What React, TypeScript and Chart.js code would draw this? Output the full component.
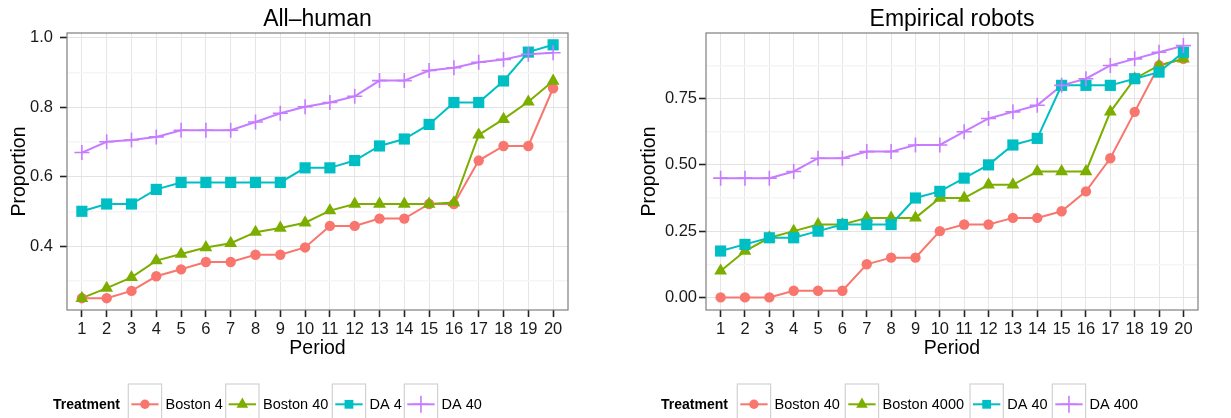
import React, { useEffect, useRef } from "react";
import { Chart, registerables } from "chart.js";

Chart.register(...registerables);

// ---------- data ----------
const periods = [1, 2, 3, 4, 5, 6, 7, 8, 9, 10, 11, 12, 13, 14, 15, 16, 17, 18, 19, 20];
const periodTickLabels = ["1", "2", "3", "4", "5", "6", "7", "8", "9", "10", "11", "12", "13", "14", "15", "16", "17", "18", "19", "20"];

const humanTitle = "All\u2013human";
const humanTreatments = ["Boston 4", "Boston 40", "DA 4", "DA 40"];
const humanBoston4 = [0.25, 0.25, 0.271, 0.313, 0.333, 0.354, 0.354, 0.375, 0.375, 0.396, 0.458, 0.458, 0.479, 0.479, 0.521, 0.521, 0.646, 0.688, 0.688, 0.854];
const humanBoston40 = [0.25, 0.279, 0.31, 0.358, 0.377, 0.396, 0.408, 0.44, 0.452, 0.467, 0.502, 0.521, 0.521, 0.521, 0.521, 0.525, 0.72, 0.765, 0.815, 0.875];
const humanDA4 = [0.5, 0.521, 0.521, 0.563, 0.583, 0.583, 0.583, 0.583, 0.583, 0.625, 0.625, 0.646, 0.688, 0.708, 0.75, 0.813, 0.813, 0.875, 0.958, 0.979];
const humanDA40 = [0.669, 0.7, 0.705, 0.714, 0.733, 0.733, 0.733, 0.757, 0.782, 0.801, 0.813, 0.831, 0.876, 0.876, 0.905, 0.913, 0.929, 0.937, 0.952, 0.956];
const humanMajorTicks = [0.4, 0.6, 0.8, 1.0];
const humanMajorLabels = ["0.4", "0.6", "0.8", "1.0"];
const humanMinorTicks = [0.3, 0.5, 0.7, 0.9];

const robotTitle = "Empirical robots";
const robotTreatments = ["Boston 40", "Boston 4000", "DA 40", "DA 400"];
const robotBoston40 = [0, 0, 0, 0.025, 0.025, 0.025, 0.125, 0.15, 0.15, 0.25, 0.275, 0.275, 0.3, 0.3, 0.325, 0.4, 0.525, 0.7, 0.875, 0.9];
const robotBoston4000 = [0.1, 0.175, 0.225, 0.25, 0.275, 0.275, 0.3, 0.3, 0.3, 0.375, 0.375, 0.425, 0.425, 0.475, 0.475, 0.475, 0.7, 0.825, 0.875, 0.9];
const robotDA40 = [0.175, 0.2, 0.225, 0.225, 0.25, 0.275, 0.275, 0.275, 0.375, 0.4, 0.45, 0.5, 0.575, 0.6, 0.8, 0.8, 0.8, 0.825, 0.85, 0.925];
const robotDA400 = [0.45, 0.45, 0.45, 0.475, 0.525, 0.525, 0.55, 0.55, 0.575, 0.575, 0.625, 0.675, 0.7, 0.725, 0.8, 0.825, 0.875, 0.9, 0.925, 0.95];
const robotMajorTicks = [0, 0.25, 0.5, 0.75];
const robotMajorLabels = ["0.00", "0.25", "0.50", "0.75"];
const robotMinorTicks = [0.125, 0.375, 0.625, 0.875];

const legendTitle = "Treatment";
const xAxisTitle = "Period";
const yAxisTitle = "Proportion";

// ---------- styles ----------
const seriesColors = ["#F8766D", "#7CAE00", "#00BFC4", "#C77CFF"];
const seriesShapes = ["circle", "triangle", "rect", "cross"];
const seriesRadius = [5.2, 7.4, 7.9, 7.5];
const FONT = "'Liberation Sans', Arial, Helvetica, sans-serif";

type PanelCfg = {
  title: string;
  names: string[];
  series: number[][];
  yMin: number;
  yMax: number;
  major: number[];
  majorLabels: string[];
  minor: number[];
  yWidth: number;
  tickPad: number;
  titlePad: number;
  rightPad: number;
  legendTitleX: number;
  legendKeyX: number[];
};

const humanPanel: PanelCfg = {
  title: humanTitle,
  names: humanTreatments,
  series: [humanBoston4, humanBoston40, humanDA4, humanDA40],
  yMin: 0.216,
  yMax: 1.013,
  major: humanMajorTicks,
  majorLabels: humanMajorLabels,
  minor: humanMinorTicks,
  yWidth: 67,
  tickPad: 7,
  titlePad: 8,
  rightPad: 47,
  legendTitleX: 53,
  legendKeyX: [128.3, 225.7, 332.3, 404.3],
};

const robotPanel: PanelCfg = {
  title: robotTitle,
  names: robotTreatments,
  series: [robotBoston40, robotBoston4000, robotDA40, robotDA400],
  yMin: -0.0475,
  yMax: 0.9975,
  major: robotMajorTicks,
  majorLabels: robotMajorLabels,
  minor: robotMinorTicks,
  yWidth: 91,
  tickPad: 2,
  titlePad: 23,
  rightPad: 33,
  legendTitleX: 46,
  legendKeyX: [122.3, 230.3, 355, 437.3],
};

function drawMarker(ctx: CanvasRenderingContext2D, shape: string, x: number, y: number, color: string) {
  ctx.save();
  ctx.fillStyle = color;
  ctx.strokeStyle = color;
  ctx.beginPath();
  if (shape === "circle") {
    ctx.arc(x, y, 4.7, 0, Math.PI * 2);
    ctx.fill();
  } else if (shape === "triangle") {
    const r = 6.7;
    for (let k = 0; k < 3; k++) {
      const a = (k * 2 * Math.PI) / 3;
      const px = x + Math.sin(a) * r;
      const py = y - Math.cos(a) * r;
      if (k === 0) ctx.moveTo(px, py);
      else ctx.lineTo(px, py);
    }
    ctx.closePath();
    ctx.fill();
  } else if (shape === "rect") {
    const s = 8.8;
    ctx.rect(x - s / 2, y - s / 2, s, s);
    ctx.fill();
  } else {
    const r = 8.5;
    ctx.lineWidth = 1.6;
    ctx.moveTo(x - r, y);
    ctx.lineTo(x + r, y);
    ctx.moveTo(x, y - r);
    ctx.lineTo(x, y + r);
    ctx.stroke();
  }
  ctx.restore();
}

function makeExtras(cfg: PanelCfg) {
  return {
    id: "ggExtras",
    afterDraw(chart: any) {
      const ctx: CanvasRenderingContext2D = chart.ctx;
      const a = chart.chartArea;
      ctx.save();
      // panel border
      ctx.strokeStyle = "#7F7F7F";
      ctx.lineWidth = 1.2;
      ctx.strokeRect(a.left, a.top, a.right - a.left, a.bottom - a.top);
      // title
      ctx.fillStyle = "#000";
      ctx.font = `23px ${FONT}`;
      ctx.textAlign = "center";
      ctx.textBaseline = "alphabetic";
      ctx.fillText(cfg.title, (a.left + a.right) / 2, 26);
      // legend
      const baseY = 409.3;
      const keyTop = 384;
      const keyW = 33.3;
      const keyH = 41;
      const keyMid = 404.3;
      ctx.textAlign = "left";
      ctx.font = `bold 14px ${FONT}`;
      ctx.fillText(legendTitle, cfg.legendTitleX, baseY);
      ctx.font = `14.5px ${FONT}`;
      cfg.names.forEach((name, i) => {
        const bx = cfg.legendKeyX[i];
        ctx.fillStyle = "#fff";
        ctx.fillRect(bx, keyTop, keyW, keyH);
        ctx.strokeStyle = "#D2D2D2";
        ctx.lineWidth = 1.2;
        ctx.strokeRect(bx, keyTop, keyW, keyH);
        ctx.strokeStyle = seriesColors[i];
        ctx.lineWidth = 2;
        ctx.beginPath();
        ctx.moveTo(bx + 3, keyMid);
        ctx.lineTo(bx + keyW - 3, keyMid);
        ctx.stroke();
        drawMarker(ctx, seriesShapes[i], bx + keyW / 2, keyMid, seriesColors[i]);
        ctx.fillStyle = "#000";
        ctx.fillText(name, bx + keyW + 4, baseY);
      });
      ctx.restore();
    },
  };
}

const near = (list: number[], v: number) => list.findIndex((t) => Math.abs(t - v) < 1e-6);

function Panel({ cfg, left, width }: { cfg: PanelCfg; left: number; width: number }) {
  const ref = useRef<HTMLCanvasElement | null>(null);
  useEffect(() => {
    if (!ref.current) return;
    const lineSets = cfg.series.map((d, i) => ({
      label: cfg.names[i] + " line",
      data: periods.map((p, j) => ({ x: p, y: d[j] })),
      borderColor: seriesColors[i],
      backgroundColor: seriesColors[i],
      borderWidth: 2,
      pointRadius: 0,
      fill: false,
      tension: 0,
      order: 100 - i,
    }));
    const pointSets = cfg.series.map((d, i) => ({
      label: cfg.names[i],
      data: periods.map((p, j) => ({ x: p, y: d[j] })),
      showLine: false,
      pointStyle: seriesShapes[i],
      pointRadius: seriesRadius[i],
      pointBackgroundColor: seriesColors[i],
      pointBorderColor: seriesColors[i],
      pointBorderWidth: seriesShapes[i] === "cross" ? 1.6 : 0,
      borderColor: seriesColors[i],
      backgroundColor: seriesColors[i],
      order: 50 - i,
    }));
    const allY = [...cfg.minor, ...cfg.major].sort((a, b) => a - b);
    const chart = new Chart(ref.current, {
      type: "line",
      data: { datasets: [...lineSets, ...pointSets] as any },
      plugins: [makeExtras(cfg) as any],
      options: {
        responsive: false,
        animation: false,
        events: [],
        layout: { padding: { top: 33, left: 0, right: cfg.rightPad, bottom: 58 } },
        plugins: { legend: { display: false }, title: { display: false }, tooltip: { enabled: false } },
        scales: {
          x: {
            type: "linear",
            min: 0.4,
            max: 20.6,
            afterBuildTicks: (s: any) => {
              s.ticks = periods.map((v) => ({ value: v }));
            },
            afterFit: (s: any) => {
              s.height = 50;
            },
            ticks: {
              autoSkip: false,
              maxRotation: 0,
              padding: 3,
              color: "#1a1a1a",
              font: { family: FONT, size: 16.5 },
              callback: (v: any) => {
                const k = near(periods, Number(v));
                return k >= 0 ? periodTickLabels[k] : "";
              },
            },
            grid: {
              color: "#E6E6E6",
              lineWidth: 1,
              drawTicks: true,
              tickLength: 7,
              tickColor: "#222",
              tickWidth: 1.6,
            },
            border: { display: false },
            title: { display: true, text: xAxisTitle, color: "#000", font: { family: FONT, size: 19.5 }, padding: { top: 0, bottom: 0 } },
          },
          y: {
            type: "linear",
            min: cfg.yMin,
            max: cfg.yMax,
            afterBuildTicks: (s: any) => {
              s.ticks = allY.map((v) => ({ value: v }));
            },
            afterFit: (s: any) => {
              s.width = cfg.yWidth;
            },
            ticks: {
              autoSkip: false,
              padding: cfg.tickPad,
              color: "#1a1a1a",
              font: { family: FONT, size: 16.5 },
              callback: (v: any) => {
                const k = near(cfg.major, Number(v));
                return k >= 0 ? cfg.majorLabels[k] : "";
              },
            },
            grid: {
              color: (c: any) => (c.tick && near(cfg.major, c.tick.value) >= 0 ? "#E3E3E3" : "#F5F5F5"),
              lineWidth: (c: any) => (c.tick && near(cfg.major, c.tick.value) >= 0 ? 1 : 1.4),
              drawTicks: true,
              tickLength: 7,
              tickColor: (c: any) => (c.tick && near(cfg.major, c.tick.value) >= 0 ? "#222" : "rgba(0,0,0,0)"),
              tickWidth: 1.6,
            },
            border: { display: false },
            title: { display: true, text: yAxisTitle, color: "#000", font: { family: FONT, size: 19.5 }, padding: { top: cfg.titlePad, bottom: 0 } },
          },
        },
      } as any,
    });
    return () => chart.destroy();
  }, [cfg]);
  return (
    <canvas
      ref={ref}
      width={width}
      height={418}
      style={{ position: "absolute", left, top: 0, width, height: 418 }}
    />
  );
}

export default function App() {
  return (
    <div style={{ position: "absolute", left: 0, top: 0, width: 1231, height: 418, background: "#fff", overflow: "hidden" }}>
      <Panel cfg={humanPanel} left={0} width={615} />
      <Panel cfg={robotPanel} left={615} width={616} />
    </div>
  );
}
